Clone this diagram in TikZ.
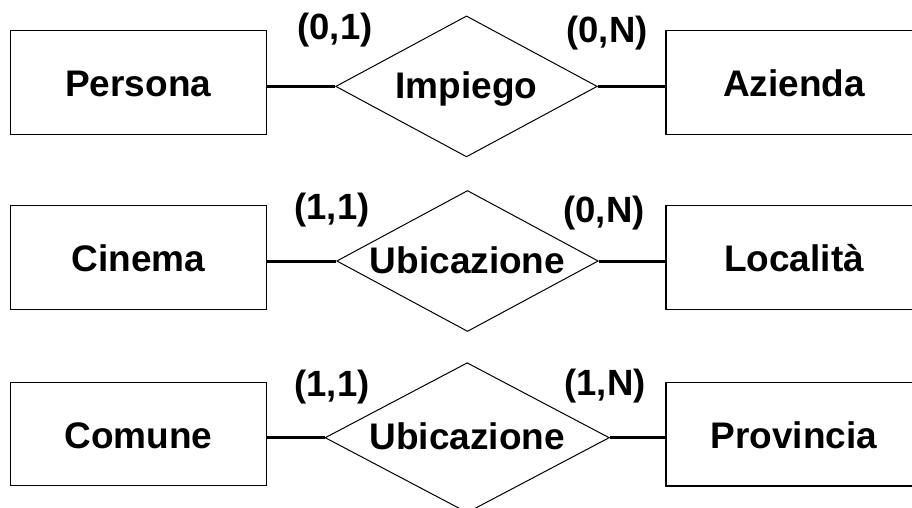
\documentclass[tikz,border=0pt]{standalone}
\usepackage{fontspec}
\setmainfont{Liberation Sans}
\usetikzlibrary{shapes.geometric}
\begin{document}
\begin{tikzpicture}[x=1pt,y=-1pt,
  entity/.style={draw=black, line width=1.2pt, rectangle, inner sep=0pt,
    minimum width=256pt, minimum height=103.6pt,
    font=\bfseries\fontsize{37}{37}\selectfont, text height=28.5pt, text depth=0pt},
  rentity/.style={entity, minimum width=268pt},
  rel/.style={draw=black, line width=1pt, diamond, inner sep=0pt,
    font=\bfseries\fontsize{37}{37}\selectfont, text height=24pt, text depth=0pt},
  card/.style={font=\bfseries\fontsize{36.5}{36.5}\selectfont, inner sep=0pt},
  conn/.style={line width=3pt}]
\useasboundingbox (0,0) rectangle (912,508);
\clip (0,0) rectangle (912,508);
% row 1
\node[entity] (persona) at (138.25,82.5) {Persona};
\node[rentity] (azienda) at (800,82.5) {\hspace*{-12pt}Azienda};
\node[rel, aspect=1.855, minimum width=261.6pt, minimum height=141pt] (impiego) at (466.5,86.4) {Impiego};
\draw[conn] (persona.east |- impiego.west) -- (impiego.west);
\draw[conn] (impiego.east) -- (azienda.west |- impiego.east);
\node[card] (c11) at (335,30) {(0,1)};
\node[card] (c12) at (607,33.5) {(0,N)};
% row 2
\node[entity] (cinema) at (138.5,257.3) {Cinema};
\node[rentity] (localita) at (800,257.5) {\hspace*{-12pt}Località};
\node[rel, aspect=1.855, minimum width=261.6pt, minimum height=141pt] (ubic1) at (467.5,261) {Ubicazione};
\draw[conn] (cinema.east |- ubic1.west) -- (ubic1.west);
\draw[conn] (ubic1.east) -- (localita.west |- ubic1.east);
\node[card] (c21) at (332,209.7) {(1,1)};
\node[card] (c22) at (604,213.5) {(0,N)};
% row 3
\node[entity] (comune) at (138.5,434) {Comune};
\node[rentity] (provincia) at (800,434.2) {\hspace*{-12pt}Provincia};
\node[rel, aspect=1.895, minimum width=284.3pt, minimum height=150pt] (ubic2) at (467.2,437.7) {Ubicazione};
\draw[conn] (comune.east |- ubic2.west) -- (ubic2.west);
\draw[conn] (ubic2.east) -- (provincia.west |- ubic2.east);
\node[card] (c31) at (332,386.7) {(1,1)};
\node[card] (c32) at (605,386.5) {(1,N)};
\end{tikzpicture}
\end{document}
